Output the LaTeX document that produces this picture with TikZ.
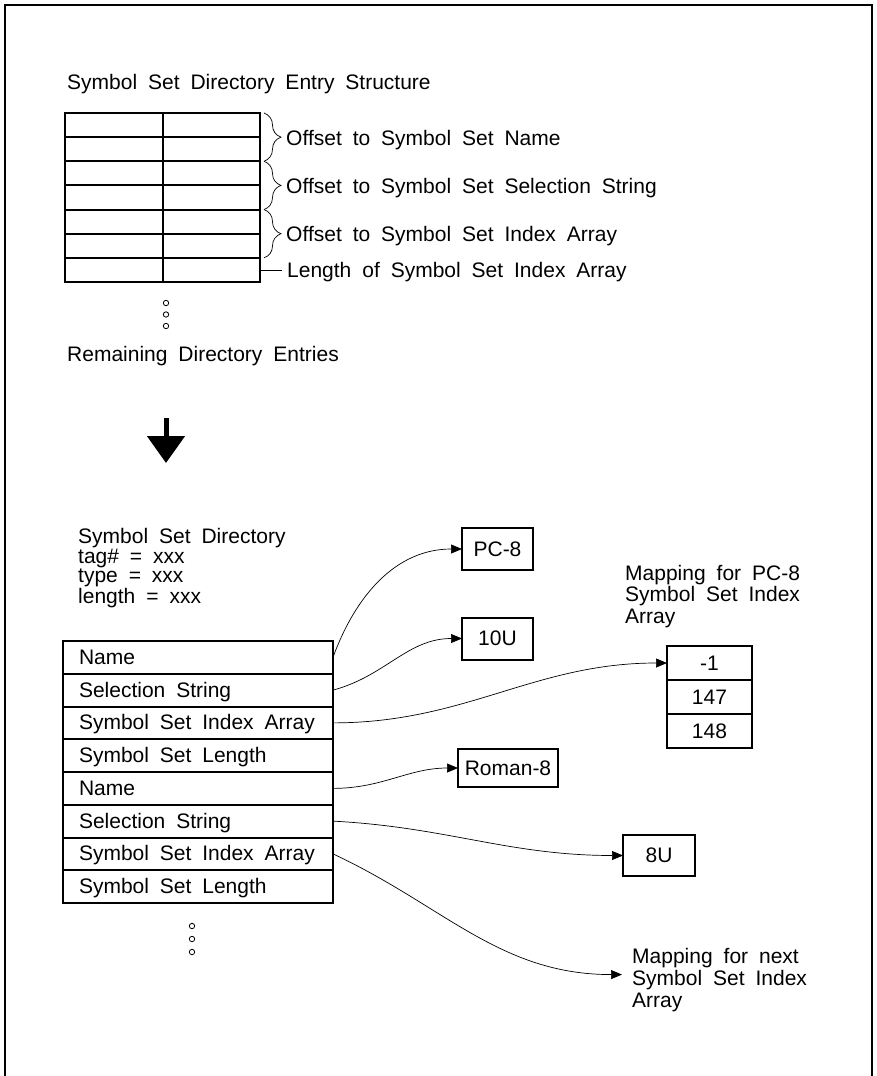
\documentclass[tikz,border=0pt]{standalone}
\usepackage{fontspec}
\setmainfont{Liberation Sans}
\usetikzlibrary{arrows.meta, positioning, decorations.pathreplacing}

\newcommand{\diagfont}[1]{\fontsize{21}{#1}\selectfont\spaceskip=0.52em plus 0.1em\relax}

\tikzset{
  cell/.style={draw, line width=2pt, minimum width=97.5pt, minimum height=24.14pt, inner sep=0pt, outer sep=0pt, anchor=north west},
  dirrow/.style={draw, line width=2pt, minimum height=32.75pt, text width=238pt, align=flush left, inner xsep=16pt, inner ysep=0pt, outer sep=0pt, anchor=north west, text height=15pt, text depth=1pt},
  valbox/.style={draw, line width=2pt, minimum width=71pt, minimum height=42pt, outer sep=0pt},
  lbl/.style={anchor=west, inner sep=0pt, text height=16pt, text depth=0pt},
  conn/.style={line width=0.7pt, -{Triangle[length=11pt, width=9pt]}},
  hook/.style={line width=0.7pt, decorate, decoration={brace, amplitude=17pt}},
}

\begin{document}
\begin{tikzpicture}[x=1pt, y=-1pt, font=\diagfont{20}]
  \useasboundingbox (0,0) rectangle (876,1076);
  \draw[line width=1.5pt] (5,1076) -- (5,5) -- (872,5) -- (872,1076);

  % Entry structure
  \node[anchor=base west, inner sep=0pt] (title) at (67,89) {Symbol Set Directory Entry Structure};
  \foreach \i in {1,...,7} {
    \node[cell] (l\i) at (65,{113+(\i-1)*24.14}) {};
    \node[cell, right=0pt of l\i] (r\i) {};
  }

  % Braces
  \draw[hook] ([xshift=4pt]r1.north east) -- ([xshift=4pt]r2.south east);
  \draw[hook] ([xshift=4pt]r3.north east) -- ([xshift=4pt]r4.south east);
  \draw[hook] ([xshift=4pt]r5.north east) -- ([xshift=4pt]r6.south east);
  \node[lbl, right=26pt of r1.south east] (off1) {Offset to Symbol Set Name};
  \node[lbl, right=26pt of r3.south east] (off2) {Offset to Symbol Set Selection String};
  \node[lbl, right=26pt of r5.south east] (off3) {Offset to Symbol Set Index Array};
  \node[lbl, right=27pt of r7.east] (len) {Length of Symbol Set Index Array};
  \draw[line width=0.8pt] (r7.east) -- ([xshift=-5pt]len.west);

  % More entries
  \foreach \y in {303,314.5,326}
    \draw[line width=0.8pt] (166,\y) circle (2.7pt);
  \node[anchor=base west, inner sep=0pt] (rest) at (67,361) {Remaining Directory Entries};

  \coordinate (dtop) at (166,418);
  \coordinate (dtip) at (166,463);
  \draw[line width=5pt, -{Triangle[length=27pt, width=37pt]}] (dtop) -- (dtip);

  % Directory
  \node[anchor=base west, inner sep=0pt, align=flush left, font=\diagfont{19.5}] (dirlbl) at (78,603.5)
    {Symbol Set Directory\\tag\# = xxx\\type = xxx\\length = xxx};
  \foreach \t [count=\i] in {Name, Selection String, Symbol Set Index Array, Symbol Set Length,
                             Name, Selection String, Symbol Set Index Array, Symbol Set Length}
    \node[dirrow] (d\i) at (63,{641+(\i-1)*32.75}) {\t};
  \foreach \y in {926,939,952}
    \draw[line width=0.8pt] (192,\y) circle (2.7pt);

  % Targets
  \node[valbox] (pc8) at (497.5,549) {PC-8};
  \node[valbox] (tenu) at (497.5,638.5) {10U};
  \node[valbox, minimum width=100pt, minimum height=38pt] (roman) at (508,768) {Roman-8};
  \node[valbox, minimum width=72pt, minimum height=41pt] (eightu) at (659,855.5) {8U};
  \node[valbox, minimum width=85pt, minimum height=34pt] (arr1) at (709.5,663) {-1};
  \node[valbox, minimum width=85pt, minimum height=34pt, below=0pt of arr1] (arr2) {147};
  \node[valbox, minimum width=85pt, minimum height=34pt, below=0pt of arr2] (arr3) {148};
  \node[anchor=base west, inner sep=0pt, align=flush left, font=\diagfont{21.5}] (maplbl) at (625,623)
    {Mapping for PC-8\\Symbol Set Index\\Array};
  \node[anchor=base west, inner sep=0pt, align=flush left, font=\diagfont{22}] (nextlbl) at (632,1007)
    {Mapping for next\\Symbol Set Index\\Array};

  % Links
  \draw[conn] (d1.east) to[out=70, in=180] (pc8.west);
  \draw[conn] (d2.east) to[out=15, in=180] (tenu.west);
  \draw[conn] (d3.east) to[out=0, in=180] (arr1.west);
  \draw[conn] (d5.east) to[out=0, in=180] (roman.west);
  \draw[conn] (d6.east) to[out=-3, in=180] (eightu.west);
  \draw[conn] (d7.east) to[out=-25, in=180] ([xshift=-10pt, yshift=5pt]nextlbl.west);
\end{tikzpicture}
\end{document}
